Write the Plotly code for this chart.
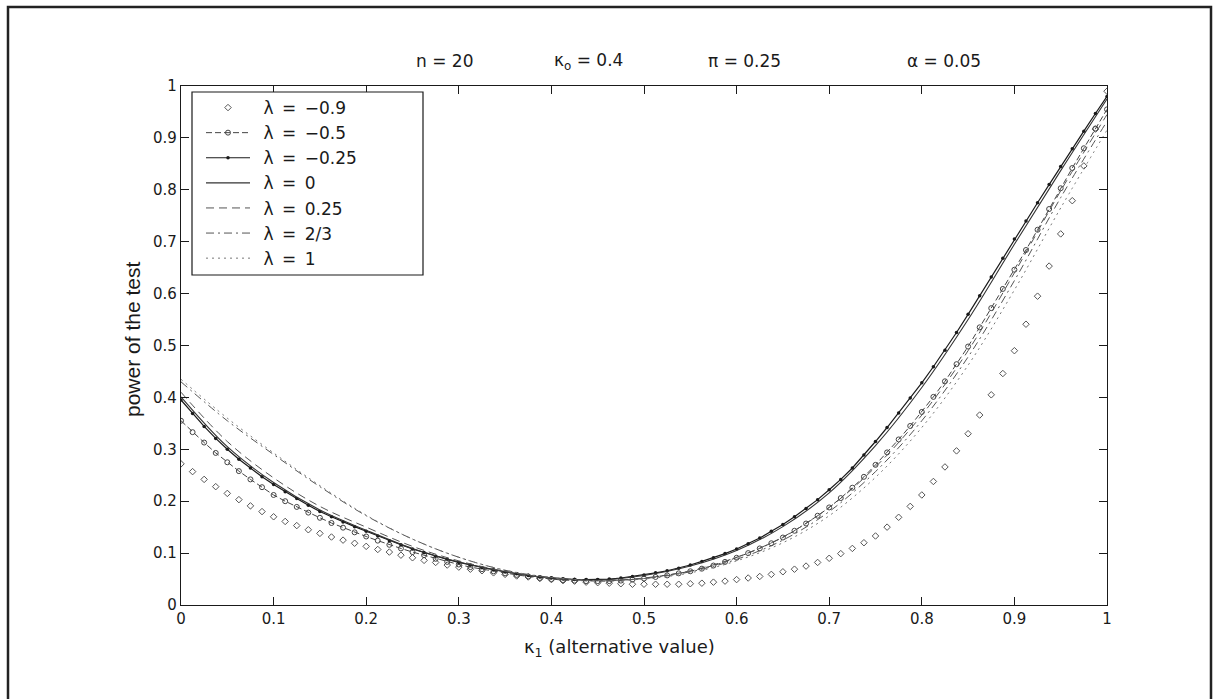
import plotly.graph_objects as go

# ---------------- data ----------------
# fine grid (step 0.0125) used by the marker series
x_fine = [i / 80 for i in range(81)]
# coarse grid (step 0.05) used by the plain line series
x_coarse = [i / 20 for i in range(21)]

lam_m090 = [0.272, 0.257, 0.242, 0.228, 0.215, 0.203, 0.191, 0.180, 0.170, 0.161,
            0.153, 0.145, 0.138, 0.131, 0.125, 0.119, 0.113, 0.107, 0.102, 0.096,
            0.091, 0.086, 0.082, 0.077, 0.073, 0.069, 0.066, 0.062, 0.059, 0.056,
            0.054, 0.051, 0.049, 0.047, 0.046, 0.044, 0.043, 0.042, 0.041, 0.040,
            0.040, 0.040, 0.040, 0.040, 0.041, 0.042, 0.044, 0.046, 0.049, 0.052,
            0.055, 0.059, 0.064, 0.069, 0.075, 0.082, 0.090, 0.099, 0.109, 0.120,
            0.133, 0.150, 0.169, 0.190, 0.212, 0.238, 0.266, 0.297, 0.330, 0.366,
            0.405, 0.446, 0.490, 0.541, 0.595, 0.653, 0.715, 0.779, 0.846, 0.917,
            0.990]

lam_m050 = [0.355, 0.333, 0.313, 0.293, 0.275, 0.258, 0.242, 0.227, 0.212, 0.200,
            0.189, 0.178, 0.168, 0.158, 0.149, 0.140, 0.132, 0.124, 0.116, 0.109,
            0.102, 0.096, 0.089, 0.083, 0.078, 0.073, 0.069, 0.065, 0.061, 0.058,
            0.055, 0.052, 0.050, 0.048, 0.047, 0.046, 0.046, 0.046, 0.047, 0.049,
            0.051, 0.054, 0.057, 0.061, 0.065, 0.070, 0.076, 0.083, 0.091, 0.100,
            0.109, 0.119, 0.130, 0.143, 0.157, 0.172, 0.188, 0.206, 0.226, 0.247,
            0.270, 0.294, 0.319, 0.345, 0.372, 0.401, 0.431, 0.464, 0.498, 0.535,
            0.572, 0.609, 0.646, 0.684, 0.723, 0.763, 0.803, 0.842, 0.880, 0.918,
            0.955]

lam_m025 = [0.395, 0.369, 0.344, 0.321, 0.300, 0.281, 0.264, 0.247, 0.232, 0.218,
            0.205, 0.192, 0.180, 0.170, 0.160, 0.151, 0.142, 0.133, 0.124, 0.116,
            0.108, 0.101, 0.094, 0.088, 0.082, 0.077, 0.072, 0.068, 0.064, 0.060,
            0.057, 0.054, 0.052, 0.050, 0.049, 0.049, 0.049, 0.050, 0.052, 0.055,
            0.058, 0.062, 0.066, 0.071, 0.077, 0.084, 0.091, 0.099, 0.108, 0.118,
            0.129, 0.142, 0.155, 0.170, 0.186, 0.203, 0.222, 0.242, 0.264, 0.289,
            0.315, 0.342, 0.370, 0.399, 0.428, 0.459, 0.491, 0.525, 0.560, 0.596,
            0.632, 0.668, 0.705, 0.740, 0.775, 0.810, 0.845, 0.879, 0.913, 0.947,
            0.980]

lam_000 = [0.401, 0.305, 0.236, 0.183, 0.144, 0.109, 0.083, 0.064, 0.052, 0.048,
           0.057, 0.075, 0.105, 0.151, 0.216, 0.307, 0.419, 0.550, 0.695, 0.837,
           0.975]

lam_025 = [0.410, 0.315, 0.245, 0.190, 0.150, 0.113, 0.085, 0.065, 0.052, 0.047,
           0.052, 0.066, 0.092, 0.131, 0.188, 0.266, 0.366, 0.490, 0.640, 0.798,
           0.945]

lam_067 = [0.430, 0.355, 0.290, 0.228, 0.172, 0.127, 0.092, 0.067, 0.053, 0.047,
           0.051, 0.064, 0.088, 0.125, 0.180, 0.257, 0.355, 0.478, 0.625, 0.785,
           0.932]

lam_100 = [0.435, 0.360, 0.293, 0.230, 0.173, 0.127, 0.092, 0.067, 0.053, 0.047,
           0.050, 0.062, 0.085, 0.120, 0.172, 0.246, 0.342, 0.462, 0.607, 0.765,
           0.915]

legend_names = ["λ = −0.9", "λ = −0.5", "λ = −0.25", "λ = 0",
                "λ = 0.25", "λ = 2/3", "λ = 1"]

x_ticks = [0, 0.1, 0.2, 0.3, 0.4, 0.5, 0.6, 0.7, 0.8, 0.9, 1]
x_tick_text = ["0", "0.1", "0.2", "0.3", "0.4", "0.5", "0.6", "0.7", "0.8", "0.9", "1"]
y_ticks = x_ticks
y_tick_text = x_tick_text

title_parts = ["n = 20", "κ<sub>o</sub> = 0.4", "π = 0.25", "α = 0.05"]
title_pos = [0.285, 0.44, 0.609, 0.824]

x_title = "κ<sub>1</sub> (alternative value)"
y_title = "power of the test"

# ---------------- figure ----------------
W, H = 1214, 699
ML, MR, MT, MB = 181, 107, 86, 94
PW, PH = W - ML - MR, H - MT - MB


def px(xp):
    return (xp - ML) / PW


def py(yp):
    return (H - MB - yp) / PH


FONT = "DejaVu Sans, Liberation Sans, Arial, sans-serif"
INK = "#1a1a1a"
SP = "\u2002"  # wide gap used in the legend labels

fig = go.Figure()

fig.add_trace(go.Scatter(
    x=x_fine, y=lam_m090, mode="markers", name=legend_names[0],
    marker=dict(symbol="diamond-open", size=5, color="#555555",
                line=dict(width=1, color="#555555"))))
fig.add_trace(go.Scatter(
    x=x_fine, y=lam_m050, mode="lines+markers", name=legend_names[1],
    line=dict(color="#444444", width=1, dash="6px,3px"),
    marker=dict(symbol="circle-open", size=5, color="#444444",
                line=dict(width=1, color="#444444"))))
fig.add_trace(go.Scatter(
    x=x_fine, y=lam_m025, mode="lines+markers", name=legend_names[2],
    line=dict(color=INK, width=1.2),
    marker=dict(symbol="circle", size=3.5, color=INK)))
fig.add_trace(go.Scatter(
    x=x_coarse, y=lam_000, mode="lines", name=legend_names[3],
    line=dict(color="#333333", width=1.1, shape="spline")))
fig.add_trace(go.Scatter(
    x=x_coarse, y=lam_025, mode="lines", name=legend_names[4],
    line=dict(color="#555555", width=1, dash="8px,5px", shape="spline")))
fig.add_trace(go.Scatter(
    x=x_coarse, y=lam_067, mode="lines", name=legend_names[5],
    line=dict(color="#555555", width=1, dash="8px,4px,2px,4px", shape="spline")))
fig.add_trace(go.Scatter(
    x=x_coarse, y=lam_100, mode="lines", name=legend_names[6],
    line=dict(color="#777777", width=1, dash="2px,4px", shape="spline")))

# legend labels with wider spacing, as in the original
for tr in fig.data:
    tr.name = SP + tr.name.replace(" = ", SP + "=" + SP)

axis_common = dict(
    range=[0, 1], showgrid=False, zeroline=False,
    showline=True, linecolor=INK, linewidth=1.2, mirror="allticks",
    ticks="inside", ticklen=8, tickcolor=INK, tickwidth=1,
    tickfont=dict(family=FONT, size=15, color=INK),
)

fig.update_xaxes(tickvals=x_ticks, ticktext=x_tick_text, **axis_common)
fig.update_yaxes(tickvals=y_ticks, ticktext=y_tick_text, **axis_common)

annotations = []
for txt, xp in zip(title_parts, title_pos):
    annotations.append(dict(text=txt, x=xp, y=py(61), xref="paper", yref="paper",
                            showarrow=False, xanchor="center", yanchor="middle",
                            font=dict(family=FONT, size=17, color=INK)))
annotations.append(dict(text=x_title, x=px(619), y=py(648), xref="paper", yref="paper",
                        showarrow=False, xanchor="center", yanchor="middle",
                        font=dict(family=FONT, size=18, color=INK)))
annotations.append(dict(text=y_title, x=px(132), y=py(340), xref="paper", yref="paper",
                        showarrow=False, xanchor="center", yanchor="middle",
                        textangle=-90,
                        font=dict(family="Liberation Sans, Arial, sans-serif",
                                  size=21, color=INK)))

shapes = [
    # outer frame around the whole picture (its bottom edge lies below the picture)
    dict(type="rect", xref="paper", yref="paper",
         x0=px(8), x1=px(1211), y0=py(730), y1=py(7),
         line=dict(color="#222222", width=2.5), layer="above"),
    # legend box
    dict(type="rect", xref="paper", yref="paper",
         x0=px(192), x1=px(423), y0=py(275), y1=py(92),
         line=dict(color=INK, width=1.2), fillcolor="white", layer="above"),
]

fig.update_layout(
    width=W, height=H,
    margin=dict(l=ML, r=MR, t=MT, b=MB),
    paper_bgcolor="white", plot_bgcolor="white",
    font=dict(family=FONT, color=INK),
    showlegend=True,
    legend=dict(x=px(201), y=py(90), xanchor="left", yanchor="top",
                bgcolor="rgba(0,0,0,0)", borderwidth=0,
                font=dict(family=FONT, size=17, color=INK),
                itemwidth=44, tracegroupgap=0),
    annotations=annotations,
    shapes=shapes,
)

fig.write_html("out.html")
